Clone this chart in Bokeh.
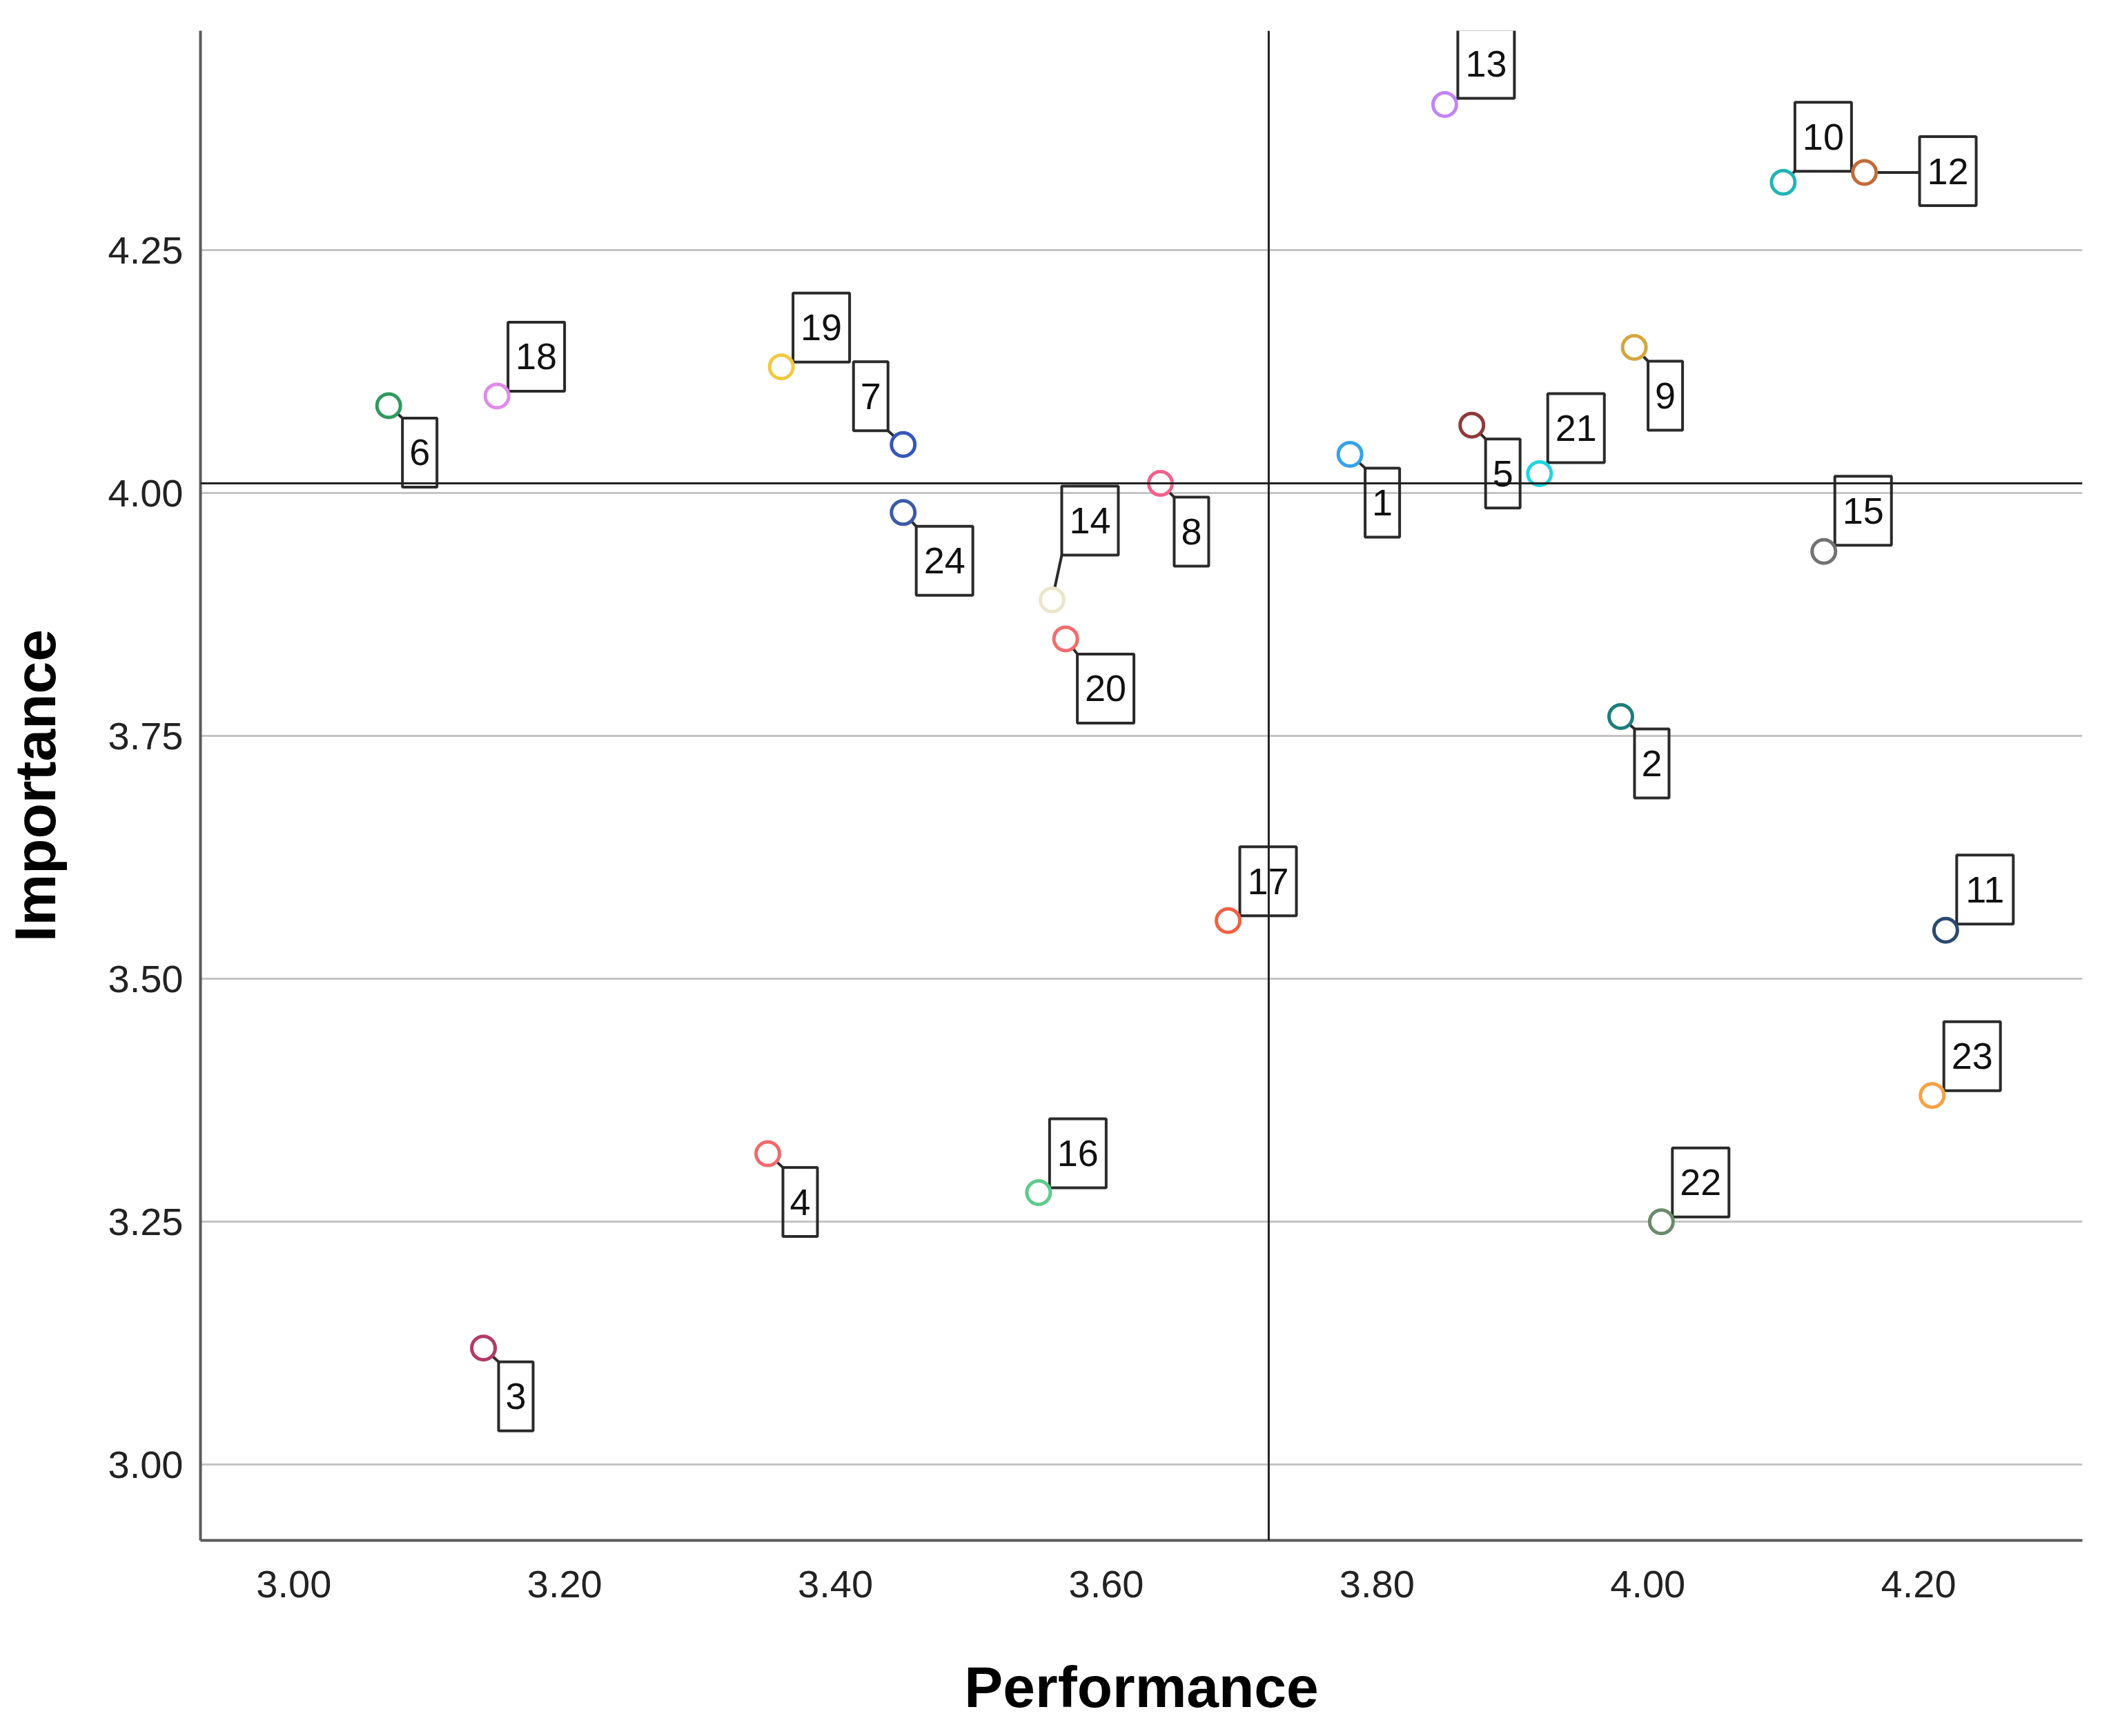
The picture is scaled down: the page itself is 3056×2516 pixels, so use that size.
from bokeh.plotting import figure
from bokeh.models import ColumnDataSource, LabelSet, Span, Range1d, FixedTicker, NumeralTickFormatter
from bokeh.core.properties import value
from bokeh.embed import file_html
from bokeh.resources import INLINE

# ---- data ----
item_ids = ["1", "2", "3", "4", "5", "6", "7", "8", "9", "10", "11", "12",
            "13", "14", "15", "16", "17", "18", "19", "20", "21", "22", "23", "24"]
performance = [3.78, 3.98, 3.14, 3.35, 3.87, 3.07, 3.45, 3.64, 3.99, 4.10, 4.22, 4.16,
               3.85, 3.56, 4.13, 3.55, 3.69, 3.15, 3.36, 3.57, 3.92, 4.01, 4.21, 3.45]
importance = [4.04, 3.77, 3.12, 3.32, 4.07, 4.09, 4.05, 4.01, 4.15, 4.32, 3.55, 4.33,
              4.40, 3.89, 3.94, 3.28, 3.56, 4.10, 4.13, 3.85, 4.02, 3.25, 3.38, 3.98]
perf_mean = 3.72
imp_mean = 4.01
x_ticks = [3.0, 3.2, 3.4, 3.6, 3.8, 4.0, 4.2]
y_ticks = [3.0, 3.25, 3.5, 3.75, 4.0, 4.25]

# ---- styles / layout ----
colors = ["#35a2e8", "#1f7d7a", "#b23a68", "#f06b6b", "#8e3b3b", "#2f9a5c", "#3556bc", "#f2628c",
          "#d4a63c", "#22b4b4", "#2b4b70", "#c26b3b", "#c384f5", "#ebe5cc", "#727272", "#5ecb8e",
          "#ef6142", "#e08be9", "#f1c943", "#f26c6c", "#22d4df", "#6b8a6b", "#f5a243", "#3b5ba9"]
# label box centre offsets from the point (screen px, +down)
lab_dx = [47, 45, 47, 47, 45, 45, -47, 45, 45, 58, 57, 121, 60, 55, 57, 57, 58, 57, 58, 58, 53, 57, 58, 60]
lab_dy = [70, 68, 70, 70, 70, 68, -70, 70, 70, -66, -59, -2, -59, -115, -59, -57, -57, -57, -57, 72, -66, -57, -57, 70]

W, H = 3040, 2500
ML, MR, MT, MB = 288, 23, 44, 268
x0, x1 = 2.931, 4.321
y0, y1 = 2.922, 4.476
XPU = (W - ML - MR) / (x1 - x0)
YPU = (H - MT - MB) / (y1 - y0)
BOX_H = 100
BOX_W1, BOX_W2 = 50, 82

FONT = "Liberation Sans"

p = figure(width=W, height=H, output_backend="svg", toolbar_location=None,
           x_range=Range1d(x0, x1), y_range=Range1d(y0, y1),
           min_border_left=ML, min_border_right=MR, min_border_top=MT, min_border_bottom=MB)
p.outline_line_color = None
p.background_fill_color = "white"

p.xgrid.visible = False
p.ygrid.ticker = FixedTicker(ticks=y_ticks)
p.ygrid.grid_line_color = "#c4c4c4"
p.ygrid.grid_line_width = 3

for ax in (p.xaxis[0], p.yaxis[0]):
    ax.axis_line_color = "#5a5a5a"
    ax.axis_line_width = 4
    ax.major_tick_out = 0
    ax.major_tick_in = 0
    ax.minor_tick_out = 0
    ax.minor_tick_in = 0
    ax.major_label_text_font = FONT
    ax.major_label_text_font_size = "56px"
    ax.major_label_text_color = "#222222"
    ax.axis_label_text_font = FONT
    ax.axis_label_text_font_size = "84px"
    ax.axis_label_text_font_style = "bold"
    ax.axis_label_text_color = "black"
    ax.formatter = NumeralTickFormatter(format="0.00")

p.xaxis.ticker = FixedTicker(ticks=x_ticks)
p.yaxis.ticker = FixedTicker(ticks=y_ticks)
p.xaxis.axis_label = "Performance"
p.yaxis.axis_label = "Importance"
p.xaxis.major_label_standoff = 44
p.xaxis.axis_label_standoff = 80
p.yaxis.major_label_standoff = 25
p.yaxis.axis_label_standoff = 56

p.add_layout(Span(location=perf_mean, dimension="height", line_color="#222222", line_width=3))
p.add_layout(Span(location=imp_mean, dimension="width", line_color="#222222", line_width=3))

# label boxes and connectors (box centre = point + screen offset)
bx, by, bw = [], [], []
cx0, cy0, cx1, cy1 = [], [], [], []
for i in range(len(item_ids)):
    w = BOX_W1 if len(item_ids[i]) == 1 else BOX_W2
    hw, hh = w / 2, BOX_H / 2
    dx, dy = lab_dx[i], lab_dy[i]
    bx.append(performance[i] + dx / XPU)
    by.append(importance[i] - dy / YPU)
    bw.append(w)
    if abs(dy) < 10:
        ex, ey = dx - hw, 0
    else:
        ex = dx - hw if dx > 0 else dx + hw
        ey = dy - hh if dy > 0 else dy + hh
    cx0.append(performance[i]); cy0.append(importance[i])
    cx1.append(performance[i] + ex / XPU); cy1.append(importance[i] - ey / YPU)

p.segment(x0=cx0, y0=cy0, x1=cx1, y1=cy1, line_color="#2a2a2a", line_width=4)

box_src = ColumnDataSource(dict(x=bx, y=by, w=bw, t=item_ids))
p.rect(x="x", y="y", width="w", height=BOX_H, width_units="screen", height_units="screen",
       source=box_src, fill_color=None, line_color="#2a2a2a", line_width=4)

src = ColumnDataSource(dict(x=performance, y=importance, c=colors))
p.scatter("x", "y", source=src, size=34, marker="circle", fill_color="white",
          line_color="c", line_width=5)

labels = LabelSet(x="x", y="y", text="t", source=box_src,
                  text_align="center", text_baseline="middle", text_font=value(FONT),
                  text_font_size="54px", text_color="#111111")
p.add_layout(labels)

open("out.html", "w").write(file_html(p, INLINE))
